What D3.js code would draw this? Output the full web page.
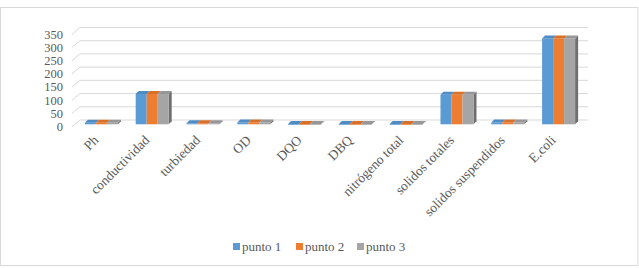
<!DOCTYPE html>
<html><head><meta charset="utf-8">
<script src="https://cdn.jsdelivr.net/npm/d3@7"></script>
<style>body{margin:0;background:#fff}svg{display:block}</style>
</head><body>
<script>
const categories = ["Ph","conductividad","turbiedad","OD","DQO","DBQ","nitrógeno total","solidos totales","solidos suspendidos","E.coli"];
const seriesNames = ["punto 1","punto 2","punto 3"];
const punto1 = [6,115,4,7,1,1,1,112,7,325];
const punto2 = [6,115,4,7,1,1,1,112,7,325];
const punto3 = [6,115,4,7,1,1,1,112,7,325];
const yTicks = [0,50,100,150,200,250,300,350];
const colors = ["#5b9bd5","#ed7d31","#a5a5a5"];
const topColors = ["#4f8cc4","#d9702a","#979797"];
const seriesValues = [punto1, punto2, punto3];

const FONT = "'Liberation Serif', 'DejaVu Serif', serif";
const W = 639, H = 268;
const svg = d3.select("body").append("svg").attr("width", W).attr("height", H)
  .style("font-family", FONT);
svg.append("rect").attr("x",0.5).attr("y",7.5).attr("width",W-1.5).attr("height",258)
  .attr("fill","#fff").attr("stroke","#d9d9d9");

const backLeft = 80, backRight = 588;
const depthDx = 8, depthDy = 6.7;
const y = d3.scaleLinear().domain([0,350]).range([120,27.5]);
const x = d3.scaleBand().domain(categories).range([backLeft, backRight]).paddingInner(0.35).paddingOuter(0.175);
const xs = d3.scaleBand().domain(seriesNames).range([0, x.bandwidth()]);

const FS = 12.5;
const g = svg.append("g");
yTicks.forEach(t => {
  g.append("line").attr("x1",backLeft).attr("x2",backRight).attr("y1",y(t)).attr("y2",y(t))
    .attr("stroke","#d9d9d9").attr("stroke-width",1);
  g.append("line").attr("x1",backLeft-depthDx).attr("y1",y(t)+depthDy).attr("x2",backLeft).attr("y2",y(t))
    .attr("stroke","#d9d9d9").attr("stroke-width",1);
  g.append("text").attr("x",63).attr("y",y(t)+depthDy+4.3).attr("text-anchor","end")
    .attr("font-family",FONT).attr("font-size",FS).attr("fill","#595959").text(t);
});

const midDx = -4, midDy = 4.3, bd = 3;
categories.forEach((c, i) => {
  const gx = x(c) + midDx;
  const base = y(0) + midDy;
  const v3 = seriesValues[2][i];
  const top3 = y(v3) + midDy;
  const rx = gx + x.bandwidth();
  svg.append("path").attr("d", `M${rx},${base} L${rx+bd},${base-bd} L${rx+bd},${top3-bd} L${rx},${top3} Z`).attr("fill","#6f6f6f");
  seriesNames.forEach((s, k) => {
    const v = seriesValues[k][i];
    const bx = gx + xs(s), bw = xs.bandwidth();
    const top = y(v) + midDy;
    svg.append("rect").attr("x",bx).attr("y",top).attr("width",bw).attr("height",Math.max(0.8, base-top)).attr("fill",colors[k]);
    svg.append("path").attr("d", `M${bx},${top} L${bx+bd},${top-bd} L${bx+bw+bd},${top-bd} L${bx+bw},${top} Z`).attr("fill",topColors[k]);
  });
});

categories.forEach(c => {
  const cx = x(c) + x.bandwidth()/2 + midDx;
  svg.append("text").attr("transform",`translate(${cx-2},${141}) rotate(-45)`)
    .attr("text-anchor","end").attr("font-family",FONT).attr("font-size",13.5)
    .attr("fill","#595959").text(c);
});

const legX = [233, 296, 357];
seriesNames.forEach((s,k) => {
  svg.append("rect").attr("x",legX[k]).attr("y",243).attr("width",7).attr("height",7).attr("fill",colors[k]);
  svg.append("text").attr("x",legX[k]+9).attr("y",251).attr("font-family",FONT).attr("font-size",13)
    .attr("fill","#595959").text(s);
});
</script>
</body></html>
